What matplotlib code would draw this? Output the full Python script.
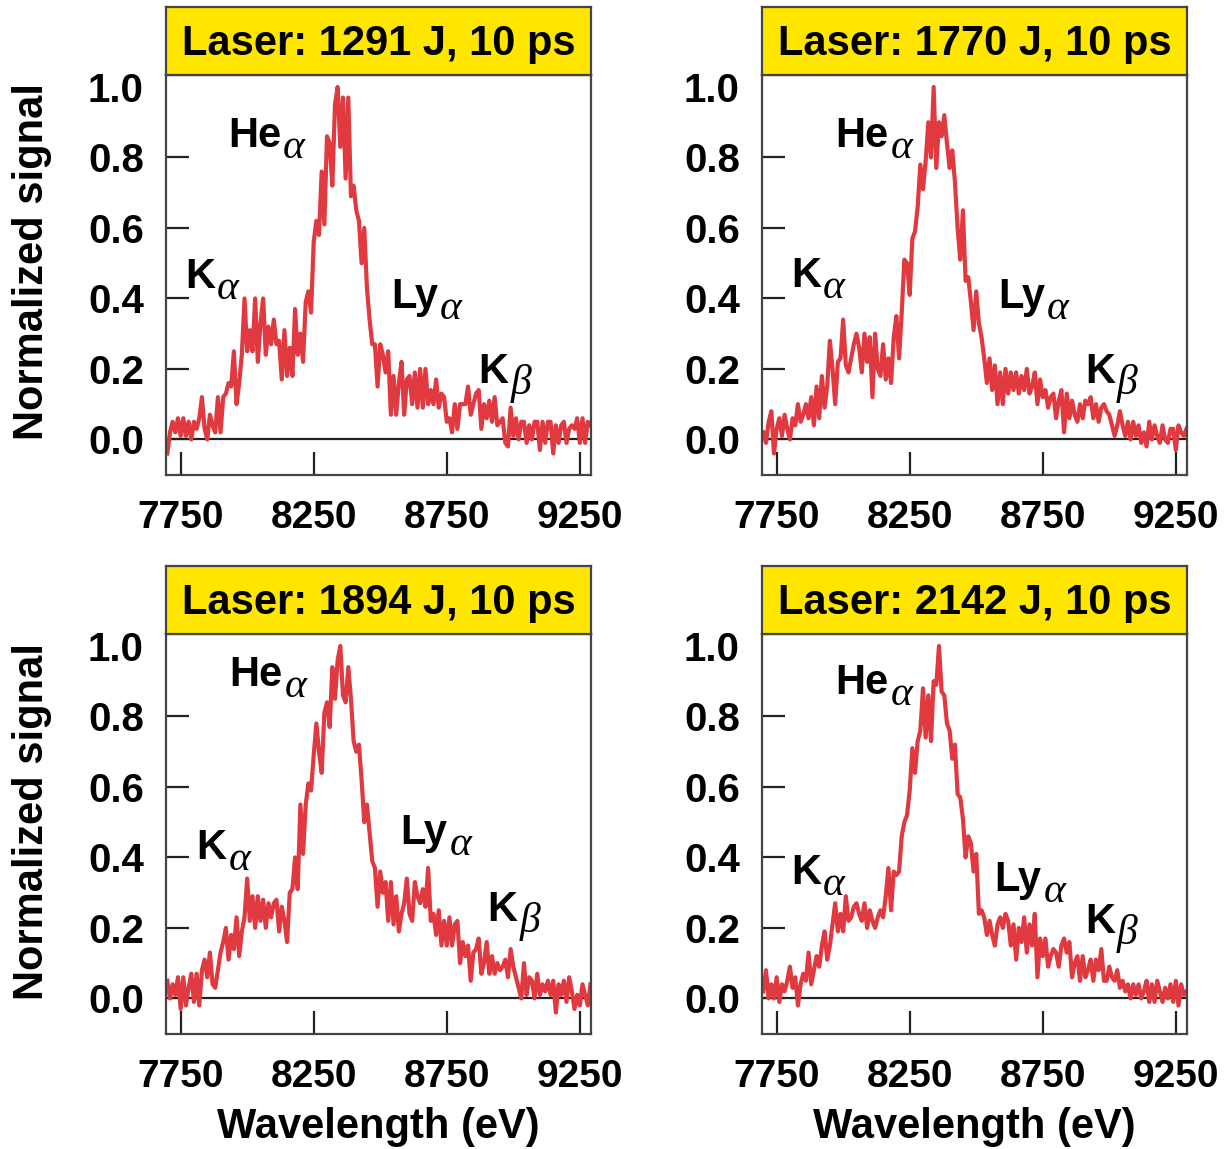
import matplotlib
matplotlib.use('Agg')
import matplotlib.pyplot as plt
import numpy as np

plt.rcParams['font.family'] = ['Liberation Sans', 'DejaVu Sans']
plt.rcParams['font.weight'] = 'bold'

RED = '#e0393f'
INK = '#222222'
YELLOW = '#ffe600'

# photon energy grid (eV)
energy = np.arange(7700, 9291, 10)

signal_1291 = [
    -0.04, 0.02, 0.05, 0.02, 0.06, 0.01, 0.06, 0.01, 0.05, 0.00,
    0.05, 0.03, 0.06, 0.12, 0.03, 0.00, 0.07, 0.04, 0.02, 0.12,
    0.02, 0.12, 0.13, 0.16, 0.15, 0.25, 0.10, 0.16, 0.24, 0.40,
    0.25, 0.31, 0.25, 0.40, 0.22, 0.33, 0.40, 0.24, 0.32, 0.27,
    0.34, 0.27, 0.28, 0.17, 0.31, 0.18, 0.26, 0.18, 0.37, 0.24,
    0.30, 0.22, 0.39, 0.42, 0.36, 0.56, 0.62, 0.58, 0.76, 0.61,
    0.86, 0.84, 0.72, 0.95, 1.00, 0.83, 0.97, 0.74, 0.97, 0.69,
    0.72, 0.65, 0.62, 0.50, 0.60, 0.43, 0.34, 0.27, 0.27, 0.15,
    0.27, 0.24, 0.19, 0.25, 0.07, 0.18, 0.07, 0.16, 0.22, 0.07,
    0.17, 0.18, 0.10, 0.19, 0.09, 0.20, 0.09, 0.20, 0.10, 0.14,
    0.10, 0.17, 0.09, 0.13, 0.12, 0.05, 0.06, 0.02, 0.10, 0.03,
    0.10, 0.10, 0.10, 0.15, 0.07, 0.10, 0.13, 0.14, 0.03, 0.10,
    0.06, 0.11, 0.05, 0.12, 0.04, 0.05, 0.06, -0.01, -0.02, 0.09,
    0.01, 0.06, 0.00, 0.05, 0.05, -0.01, 0.04, 0.00, 0.05, 0.05,
    -0.03, 0.05, -0.01, 0.05, 0.05, -0.04, 0.04, -0.01, 0.04, 0.05,
    -0.01, 0.03, 0.04, 0.03, 0.06, -0.01, 0.06, -0.01, 0.05, 0.04,
]

signal_1770 = [
    0.02, -0.01, 0.05, 0.08, -0.04, 0.03, 0.06, 0.01, 0.07, 0.03,
    0.00, 0.06, 0.04, 0.10, 0.05, 0.07, 0.10, 0.06, 0.12, 0.04,
    0.15, 0.06, 0.18, 0.09, 0.15, 0.28, 0.20, 0.10, 0.22, 0.23,
    0.34, 0.21, 0.19, 0.23, 0.27, 0.30, 0.26, 0.19, 0.30, 0.22,
    0.29, 0.12, 0.30, 0.20, 0.18, 0.27, 0.17, 0.23, 0.16, 0.29,
    0.35, 0.23, 0.36, 0.51, 0.50, 0.41, 0.57, 0.59, 0.66, 0.78,
    0.71, 0.79, 0.90, 0.80, 1.00, 0.77, 0.90, 0.86, 0.92, 0.84,
    0.77, 0.82, 0.73, 0.60, 0.51, 0.65, 0.45, 0.46, 0.39, 0.31,
    0.42, 0.33, 0.29, 0.23, 0.16, 0.23, 0.14, 0.21, 0.10, 0.19,
    0.10, 0.20, 0.13, 0.19, 0.14, 0.19, 0.13, 0.18, 0.14, 0.20,
    0.13, 0.15, 0.19, 0.10, 0.17, 0.12, 0.14, 0.09, 0.12, 0.13,
    0.06, 0.11, 0.14, 0.02, 0.13, 0.06, 0.11, 0.07, 0.05, 0.10,
    0.06, 0.11, 0.10, 0.12, 0.06, 0.10, 0.05, 0.09, 0.10, 0.08,
    0.07, 0.04, 0.01, 0.04, 0.08, 0.04, 0.01, 0.05, 0.00, 0.05,
    0.01, 0.04, -0.01, 0.02, -0.02, 0.05, 0.00, 0.04, 0.01, -0.01,
    0.04, 0.00, -0.01, 0.03, 0.03, -0.03, 0.04, 0.02, 0.01, 0.03,
]

signal_1894 = [
    0.05, 0.00, 0.04, 0.01, 0.06, -0.03, 0.06, -0.02, 0.03, 0.07,
    -0.01, 0.07, -0.02, 0.08, 0.11, 0.06, 0.13, 0.04, 0.03, 0.08,
    0.13, 0.16, 0.20, 0.11, 0.18, 0.14, 0.23, 0.12, 0.19, 0.23,
    0.34, 0.22, 0.29, 0.20, 0.29, 0.22, 0.28, 0.20, 0.27, 0.23,
    0.27, 0.28, 0.19, 0.26, 0.22, 0.16, 0.30, 0.31, 0.40, 0.31,
    0.55, 0.41, 0.55, 0.61, 0.59, 0.69, 0.78, 0.70, 0.64, 0.81,
    0.84, 0.77, 0.94, 0.85, 0.96, 1.00, 0.86, 0.84, 0.94, 0.85,
    0.73, 0.70, 0.72, 0.62, 0.50, 0.55, 0.47, 0.39, 0.37, 0.26,
    0.36, 0.30, 0.33, 0.22, 0.33, 0.21, 0.29, 0.19, 0.24, 0.27,
    0.34, 0.24, 0.22, 0.33, 0.29, 0.27, 0.31, 0.26, 0.37, 0.22,
    0.24, 0.18, 0.25, 0.15, 0.22, 0.15, 0.23, 0.15, 0.21, 0.22,
    0.10, 0.16, 0.12, 0.15, 0.05, 0.13, 0.14, 0.17, 0.07, 0.10,
    0.16, 0.07, 0.12, 0.07, 0.10, 0.08, 0.09, 0.11, 0.06, 0.14,
    0.09, 0.06, 0.03, 0.00, 0.10, 0.01, 0.06, 0.05, 0.00, 0.07,
    0.01, 0.04, 0.02, 0.05, 0.01, 0.05, -0.04, 0.04, 0.01, 0.05,
    -0.01, 0.06, 0.02, -0.03, 0.01, -0.02, 0.04, 0.01, -0.02, 0.04,
]

signal_2142 = [
    0.02, 0.08, 0.00, 0.04, 0.00, 0.06, -0.01, 0.04, 0.02, 0.05,
    0.09, 0.03, 0.06, -0.02, 0.04, 0.07, 0.05, 0.13, 0.04, 0.08,
    0.12, 0.09, 0.15, 0.19, 0.11, 0.15, 0.21, 0.27, 0.19, 0.24,
    0.19, 0.29, 0.22, 0.23, 0.26, 0.27, 0.24, 0.22, 0.27, 0.20,
    0.25, 0.22, 0.20, 0.23, 0.25, 0.23, 0.29, 0.37, 0.25, 0.36,
    0.35, 0.36, 0.46, 0.50, 0.52, 0.59, 0.71, 0.64, 0.73, 0.76,
    0.88, 0.74, 0.86, 0.73, 0.90, 0.89, 1.00, 0.87, 0.86, 0.78,
    0.76, 0.68, 0.72, 0.58, 0.57, 0.51, 0.40, 0.46, 0.44, 0.36,
    0.41, 0.24, 0.25, 0.23, 0.18, 0.22, 0.18, 0.15, 0.21, 0.23,
    0.20, 0.24, 0.22, 0.15, 0.21, 0.11, 0.20, 0.16, 0.23, 0.13,
    0.21, 0.15, 0.24, 0.06, 0.17, 0.12, 0.17, 0.09, 0.12, 0.14,
    0.13, 0.09, 0.15, 0.17, 0.13, 0.16, 0.06, 0.10, 0.12, 0.05,
    0.12, 0.06, 0.08, 0.11, 0.05, 0.11, 0.08, 0.14, 0.05, 0.05,
    0.09, 0.06, 0.05, 0.08, 0.03, 0.05, 0.02, 0.04, 0.00, 0.04,
    0.01, 0.04, 0.00, 0.02, 0.05, -0.01, 0.04, -0.01, 0.05, 0.02,
    -0.01, 0.03, 0.00, 0.04, -0.01, 0.05, -0.02, 0.04, 0.01, 0.02,
]

shot_titles = ['Laser: 1291 J, 10 ps', 'Laser: 1770 J, 10 ps',
               'Laser: 1894 J, 10 ps', 'Laser: 2142 J, 10 ps']
signals = [signal_1291, signal_1770, signal_1894, signal_2142]

# emission line symbol and its greek subscript
line_names = [('He', '\u03b1'), ('K', '\u03b1'), ('Ly', '\u03b1'), ('K', '\u03b2')]
# (energy, signal) anchor of each line label, per shot
label_spots = [
    [(7928, 0.83), (7766, 0.43), (8541, 0.372), (8869, 0.16)],
    [(7971, 0.83), (7804, 0.433), (8582, 0.372), (8908, 0.16)],
    [(7932, 0.887), (7810, 0.395), (8576, 0.438), (8904, 0.22)],
    [(7971, 0.863), (7804, 0.324), (8569, 0.305), (8908, 0.187)],
]

xticks = [7750, 8250, 8750, 9250]
yticks = [0.0, 0.2, 0.4, 0.6, 0.8, 1.0]

W, H = 1226, 1149
fig = plt.figure(figsize=(W / 100, H / 100), dpi=100)

lefts = [166, 762, 166, 762]
tops = [75, 75, 634, 634]
ax_w, ax_h, box_h = 425, 400, 68

for i in range(4):
    l, t = lefts[i], tops[i]
    ax = fig.add_axes([l / W, 1 - (t + ax_h) / H, ax_w / W, ax_h / H])
    ax.plot(energy, signals[i], color=RED, lw=3, solid_joinstyle='round')
    ax.axhline(0, color=INK, lw=1.6, zorder=1)
    ax.set_xlim(7695, 9292)
    ax.set_ylim(-0.101, 1.034)
    ax.set_xticks(xticks)
    ax.set_yticks(yticks)
    ax.set_yticklabels(['%.1f' % v for v in yticks])
    ax.tick_params(direction='in', length=16.5, width=1.6, color=INK,
                   labelsize=29, pad=16)
    ax.tick_params(axis='x', labelsize=28, pad=18)
    ax.yaxis.get_major_ticks()[-1].tick1line.set_visible(False)
    for s in ax.spines.values():
        s.set_color('#444444')
        s.set_linewidth(1.6)

    for (sym, greek), (x, y) in zip(line_names, label_spots[i]):
        main = ax.text(x, y, sym, fontsize=30, ha='left', va='baseline')
        ax.annotate(greek, xy=(1, 0), xycoords=main, xytext=(1.5, -1.5),
                    textcoords='offset points', ha='left', va='baseline',
                    fontsize=30, family='Liberation Serif',
                    style='italic', fontweight='normal')

    # yellow shot banner sitting on top of the frame
    bx = fig.add_axes([l / W, 1 - t / H, ax_w / W, box_h / H])
    bx.set_facecolor(YELLOW)
    bx.set_xticks([])
    bx.set_yticks([])
    for s in bx.spines.values():
        s.set_color('#444444')
        s.set_linewidth(1.6)
    bx.text(0.5, 0.29, shot_titles[i], transform=bx.transAxes,
            ha='center', va='baseline', fontsize=30, fontweight='bold')

for yc in [262, 821]:
    fig.text(32 / W, 1 - yc / H, 'Normalized signal', rotation=90,
             ha='center', va='center', fontsize=30, fontweight='bold')
for xc in [378, 974]:
    fig.text(xc / W, 1 - 1127 / H, 'Wavelength (eV)',
             ha='center', va='center', fontsize=30, fontweight='bold')

fig.savefig('out.png', dpi=100)
